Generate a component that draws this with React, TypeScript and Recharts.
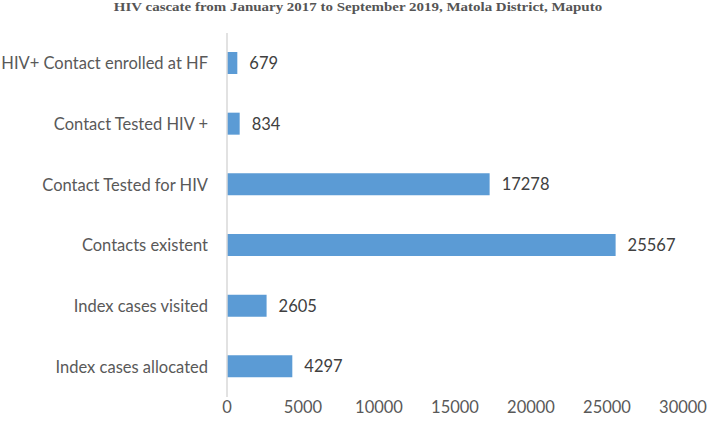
import React from 'react';
import { Bar, BarChart, LabelList, XAxis, YAxis } from 'recharts';

const categories = [
  'HIV+ Contact enrolled at HF',
  'Contact Tested HIV +',
  'Contact Tested for HIV',
  'Contacts existent',
  'Index cases visited',
  'Index cases allocated',
];
const counts = [679, 834, 17278, 25567, 2605, 4297];
const xTicks = [0, 5000, 10000, 15000, 20000, 25000, 30000];

const data = categories.map((name, i) => ({ name, value: counts[i] }));

const tickFont = { fill: '#595959', fontSize: 16.5, fontFamily: 'Lato, sans-serif' };

const App = () => {
  return (
    <div style={{ position: 'absolute', left: 0, top: 0, width: 708, height: 425, background: '#fff' }}>
      <div
        style={{
          position: 'absolute',
          top: -1,
          left: 0,
          width: 716,
          textAlign: 'center',
          fontFamily: '"Liberation Serif", serif',
          fontWeight: 'bold',
          fontSize: 13,
          lineHeight: '15px',
          color: '#555',
          transform: 'scaleX(1.15)',
          transformOrigin: '358px 0',
        }}
      >
        HIV cascate from January 2017 to September 2019, Matola District, Maputo
      </div>
      <BarChart
        width={708}
        height={425}
        data={data}
        layout="vertical"
        margin={{ top: 33, right: 25, bottom: 0, left: 0 }}
        barSize={22}
      >
        <XAxis
          type="number"
          domain={[0, 30000]}
          ticks={xTicks}
          axisLine={false}
          tickLine={false}
          tickSize={0}
          tickMargin={4}
          height={28}
          interval={0}
          tick={tickFont}
        />
        <YAxis
          type="category"
          dataKey="name"
          width={227}
          axisLine={{ stroke: '#d9d9d9', strokeWidth: 1.5 }}
          tickLine={false}
          tickSize={0}
          tickMargin={19}
          interval={0}
          tick={tickFont}
        />
        <Bar dataKey="value" fill="#5b9bd5" isAnimationActive={false}>
          <LabelList
            dataKey="value"
            position="right"
            offset={12}
            fill="#404040"
            fontSize={16.5}
            fontFamily="Lato, sans-serif"
          />
        </Bar>
      </BarChart>
    </div>
  );
};

export default App;
